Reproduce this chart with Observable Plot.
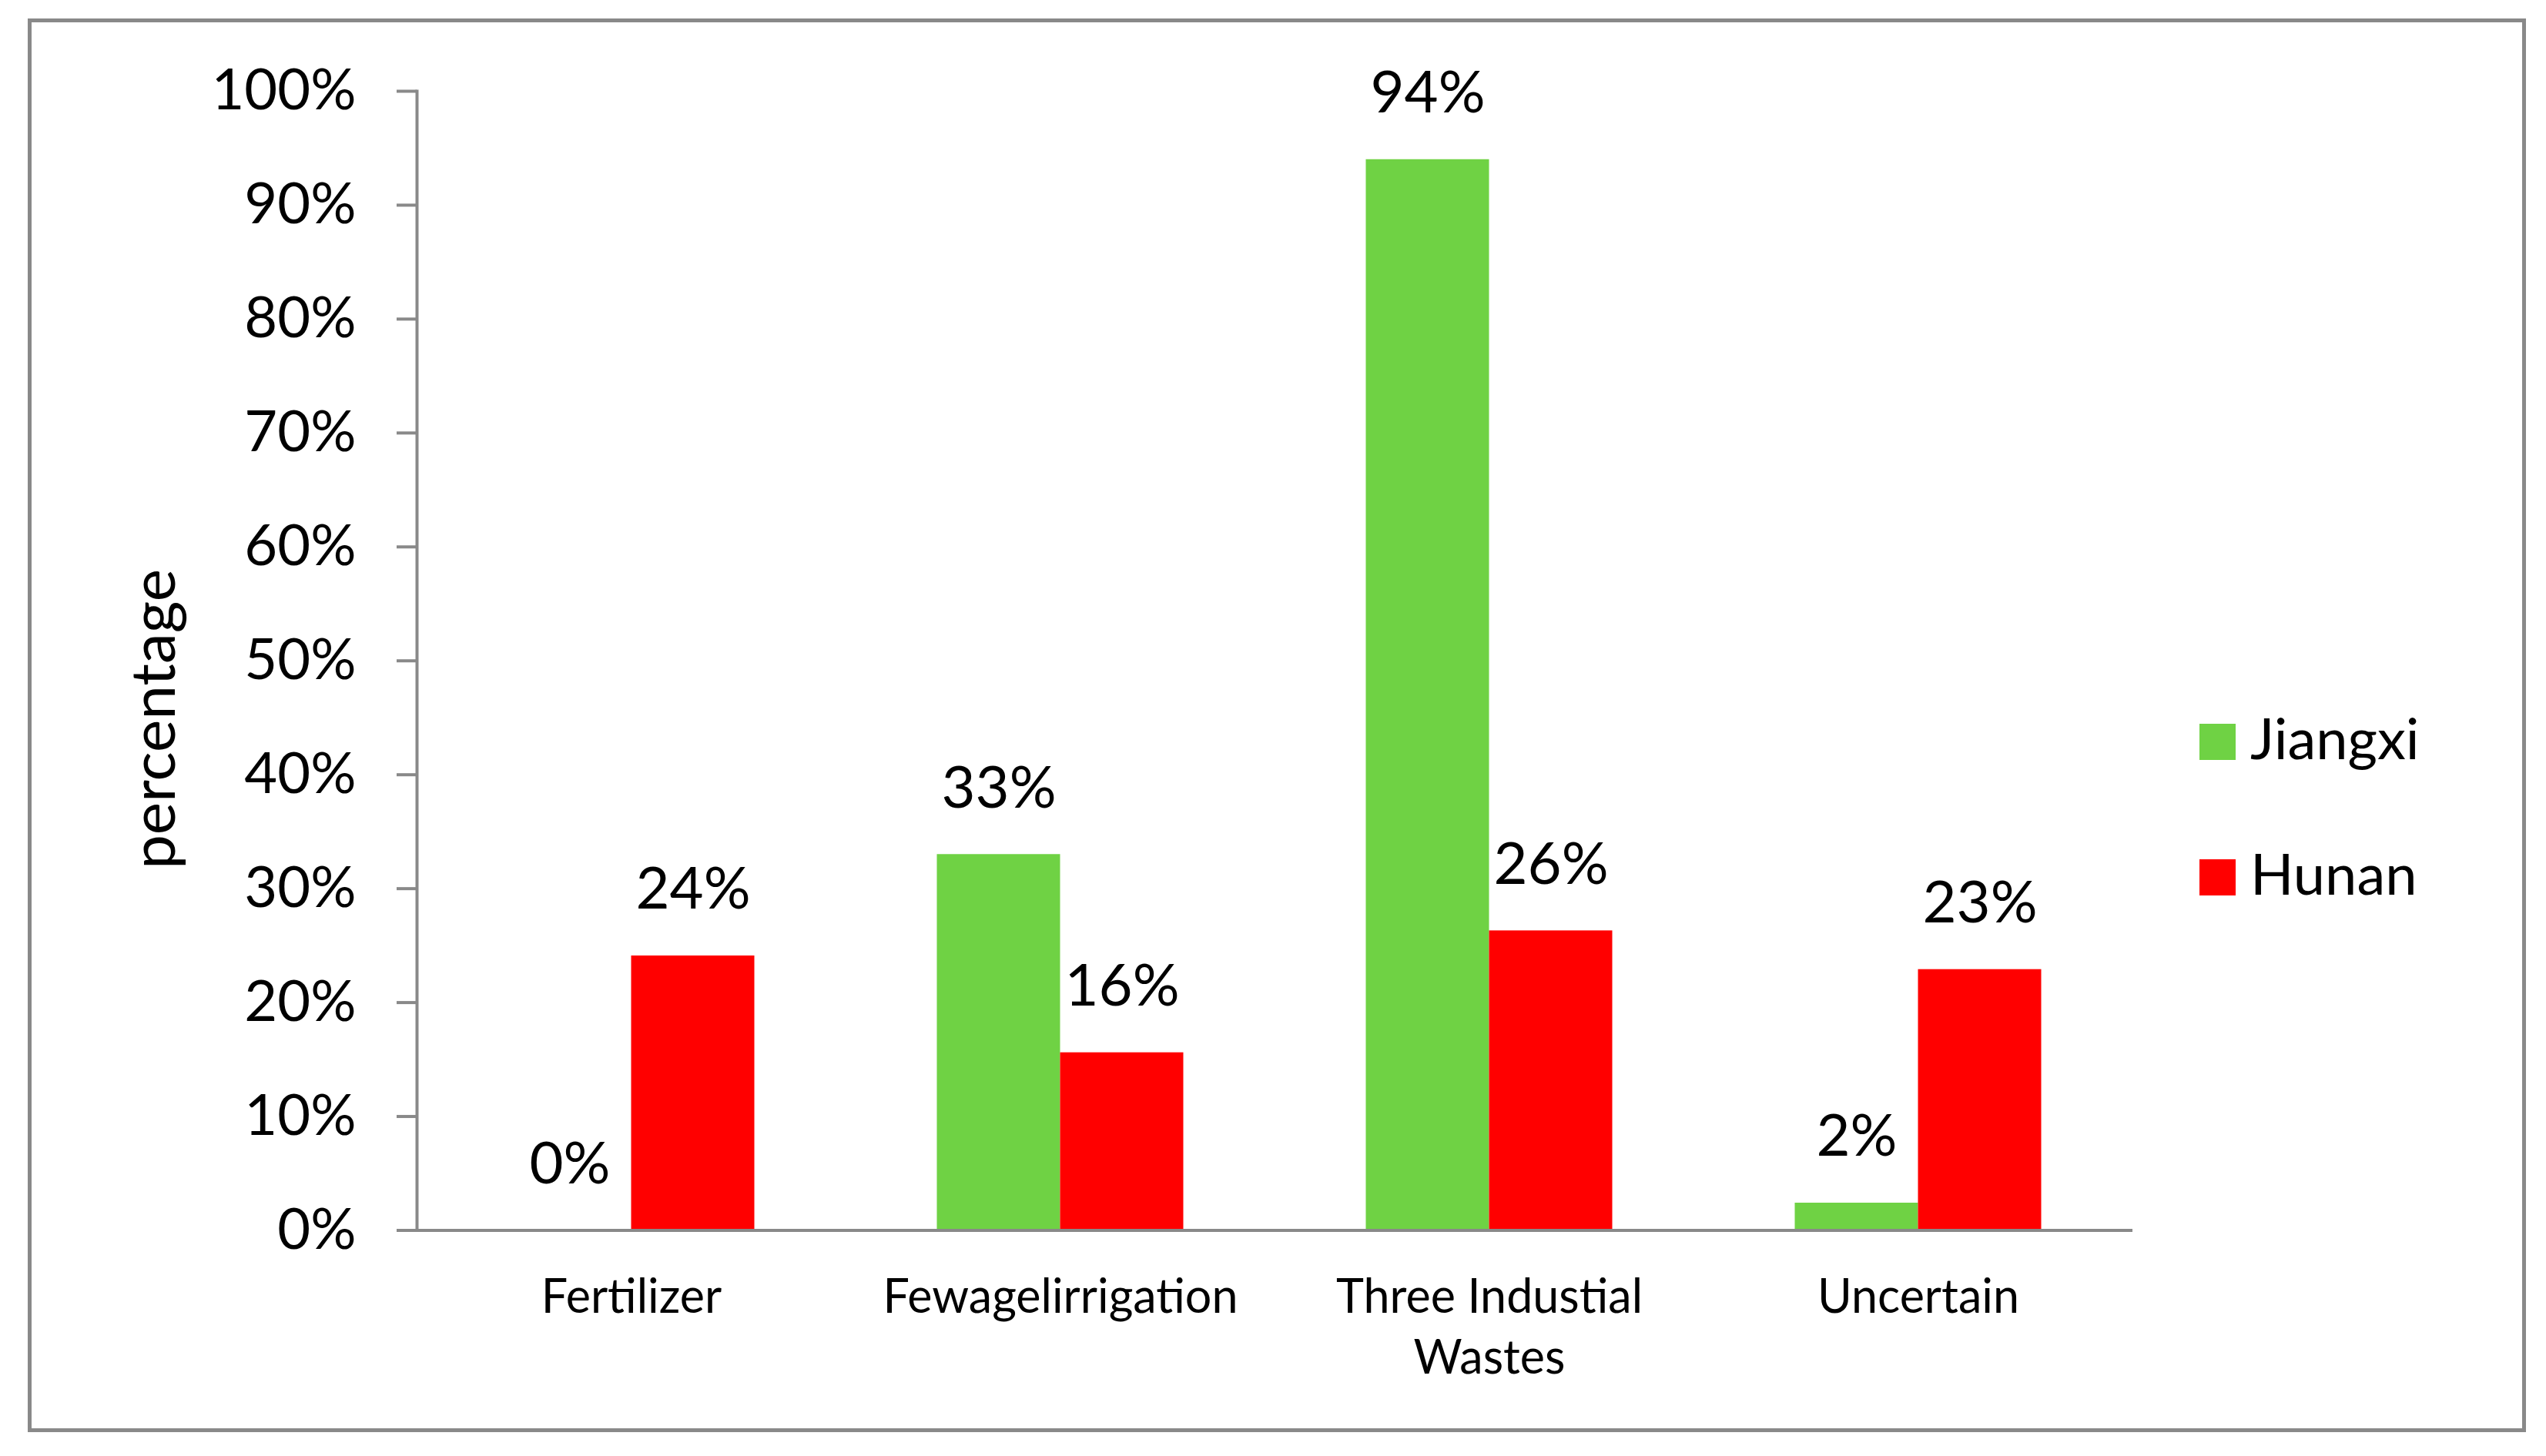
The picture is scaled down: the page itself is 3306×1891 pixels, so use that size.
<!DOCTYPE html>
<html>
<head>
<meta charset="utf-8">
<script src="https://cdn.jsdelivr.net/npm/d3@7"></script>
<script src="https://cdn.jsdelivr.net/npm/@observablehq/plot@0.6"></script>
<style>
  html, body { margin: 0; padding: 0; background: #fff; }
  body { width: 3306px; height: 1891px; position: relative; overflow: hidden; font-family: Lato, sans-serif; }
  #border { position: absolute; left: 36px; top: 24px; width: 3244px; height: 1836px; box-sizing: border-box; border: 5px solid #898989; pointer-events: none; }
  #chart { position: absolute; left: 0; top: 0; }
  #ytitle { position: absolute; font-size: 80px; line-height: 1.2; white-space: nowrap; color: #000; transform-origin: center center; }
  .leg { position: absolute; left: 2856px; display: flex; align-items: flex-end; }
  .sw { width: 47px; height: 47px; }
  .lt { position: absolute; left: 66px; font-size: 74px; line-height: 1.2; white-space: nowrap; color: #000; }
</style>
</head>
<body>
<div id="chart"></div>
<div id="ytitle"></div>
<div id="legend"></div>
<div id="border"></div>
<script>
// ---- data ----
const categories = ["Fertilizer", "Fewagelirrigation", "Three Industial\nWastes", "Uncertain"];
const series = ["Jiangxi", "Hunan"];
const jiangxi = [0, 0.33, 0.94, 0.024];
const hunan = [0.241, 0.156, 0.263, 0.229];
const seriesColors = ["#6fd244", "#ff0000"];
const yTicks = [0, 0.1, 0.2, 0.3, 0.4, 0.5, 0.6, 0.7, 0.8, 0.9, 1.0];
const yTitle = "percentage";

const values = {Jiangxi: jiangxi, Hunan: hunan};
const data = [];
categories.forEach((c, i) => series.forEach(s => data.push({category: c, series: s, value: values[s][i]})));

const gray = "#898989";
const pct = d3.format(".0%");

const chart = Plot.plot({
  width: 3306,
  height: 1891,
  marginLeft: 539.5,
  marginRight: 535,
  marginTop: 118,
  marginBottom: 293.5,
  style: {fontFamily: "Lato, sans-serif", background: "transparent", color: "#000"},
  fx: {domain: categories, paddingInner: 0, paddingOuter: 0, axis: null, label: null},
  x: {domain: series, paddingInner: 0, paddingOuter: 0.733, axis: null, label: null},
  y: {domain: [0, 1], axis: null, label: null},
  color: {domain: series, range: seriesColors},
  marks: [
    Plot.barY(data, {fx: "category", x: "series", y: "value", fill: "series"}),
    Plot.ruleY([0], {stroke: gray, strokeWidth: 4}),
    Plot.frame({anchor: "left", facetAnchor: "left", stroke: gray, strokeWidth: 4}),
    Plot.axisY({ticks: yTicks, tickFormat: pct, tickSize: 26, tickPadding: 53, fontSize: 74, stroke: gray, strokeWidth: 4, fill: "#000", label: null}),
    Plot.axisFx({anchor: "bottom", tickSize: 0, tickPadding: 51, fontSize: 61, lineHeight: 79 / 61, fill: "#000", label: null}),
    Plot.text(data, {fx: "category", x: "series", y: "value", text: d => pct(d.value), dy: -61, lineAnchor: "bottom", fontSize: 76, fill: "#000"})
  ]
});
document.getElementById("chart").appendChild(chart);

// y-axis title
const yt = document.getElementById("ytitle");
yt.textContent = yTitle;
const w = yt.offsetWidth, h = yt.offsetHeight;
yt.style.left = (196 - w / 2) + "px";
yt.style.top = (934 - h / 2) + "px";
yt.style.transform = "rotate(-90deg)";

// legend
const legend = document.getElementById("legend");
const legTops = [940, 1116];
series.forEach((s, i) => {
  const row = document.createElement("div");
  row.className = "leg";
  row.style.top = legTops[i] + "px";
  const sw = document.createElement("div");
  sw.className = "sw";
  sw.style.background = seriesColors[i];
  const t = document.createElement("div");
  t.className = "lt";
  t.textContent = s;
  // baseline at swatch bottom: top = 47 - 0.987em
  t.style.top = (47 - 0.987 * 74) + "px";
  row.appendChild(sw);
  row.appendChild(t);
  legend.appendChild(row);
});
</script>
</body>
</html>
